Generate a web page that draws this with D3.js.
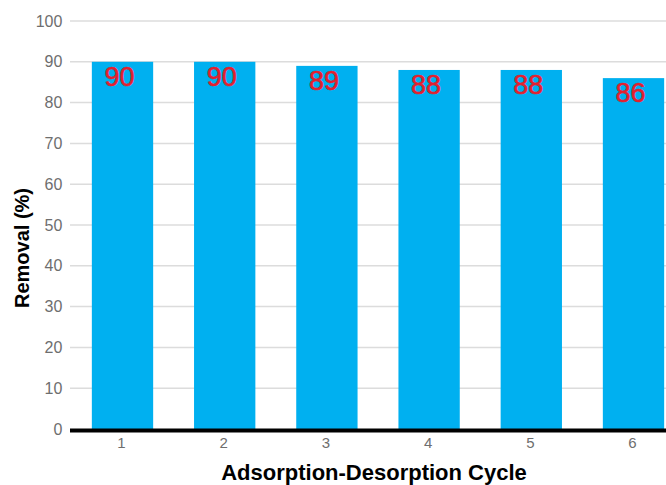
<!DOCTYPE html>
<html>
<head>
<meta charset="utf-8">
<script src="https://cdn.jsdelivr.net/npm/d3@7"></script>
<style>
  html, body { margin: 0; padding: 0; background: #fff; }
  svg { display: block; }
</style>
</head>
<body>
<svg id="chart" width="666" height="485"></svg>
<script>
// Removal efficiency over repeated adsorption-desorption cycles
const cycles = ["1", "2", "3", "4", "5", "6"];
const removal = [90, 90, 89, 88, 88, 86];
const yTicks = [0, 10, 20, 30, 40, 50, 60, 70, 80, 90, 100];

const svg = d3.select("#chart");
const plotLeft = 71.4, plotTop = 21, plotBottom = 429;
const step = 102.2;
const fontFamily = "Liberation Sans, Arial, sans-serif";

const x = d3.scaleBand()
  .domain(cycles)
  .range([plotLeft, plotLeft + step * cycles.length])
  .paddingInner(0.4)
  .paddingOuter(0.2);

const y = d3.scaleLinear().domain([0, 100]).range([plotBottom, plotTop]);

// Horizontal gridlines
svg.append("g")
  .selectAll("line")
  .data(yTicks.filter(d => d > 0))
  .join("line")
  .attr("x1", 70)
  .attr("x2", 666)
  .attr("y1", d => y(d))
  .attr("y2", d => y(d))
  .attr("stroke", "#dcdcdc")
  .attr("stroke-width", 1.5);

// Y axis tick labels
const yAxis = d3.axisLeft(y).tickValues(yTicks).tickSize(0).tickPadding(9);
const gy = svg.append("g").attr("transform", `translate(${plotLeft},0)`).call(yAxis);
gy.select(".domain").remove();
gy.selectAll("text")
  .attr("font-family", fontFamily)
  .attr("font-size", 16)
  .attr("fill", "#6e6e6e");

// Bars
svg.append("g")
  .selectAll("rect")
  .data(removal)
  .join("rect")
  .attr("x", (d, i) => x(cycles[i]))
  .attr("width", x.bandwidth())
  .attr("y", d => y(d))
  .attr("height", d => y(0) - y(d))
  .attr("fill", "#00b0f0");

// Value labels inside bar tops
svg.append("g")
  .selectAll("text")
  .data(removal)
  .join("text")
  .attr("x", (d, i) => x(cycles[i]) + x.bandwidth() / 2 - 3)
  .attr("y", d => y(d) + 24)
  .attr("text-anchor", "middle")
  .attr("font-family", fontFamily)
  .attr("font-size", 27)
  .attr("fill", "#e3202e")
  .attr("stroke", "#e3202e")
  .attr("stroke-width", 0.6)
  .text(d => d);

// X axis tick labels
const xAxis = d3.axisBottom(x).tickSize(0).tickPadding(8);
const gx = svg.append("g").attr("transform", `translate(-1,${plotBottom})`).call(xAxis);
gx.select(".domain").remove();
gx.selectAll("text")
  .attr("font-family", fontFamily)
  .attr("font-size", 15)
  .attr("fill", "#6e6e6e");

// Baseline
svg.append("line")
  .attr("x1", 70)
  .attr("x2", 666)
  .attr("y1", plotBottom + 1.5)
  .attr("y2", plotBottom + 1.5)
  .attr("stroke", "#000")
  .attr("stroke-width", 4);

// Axis titles
svg.append("text")
  .attr("x", 374)
  .attr("y", 480)
  .attr("text-anchor", "middle")
  .attr("font-family", fontFamily)
  .attr("font-weight", "bold")
  .attr("font-size", 22)
  .attr("fill", "#000")
  .text("Adsorption-Desorption Cycle");

svg.append("text")
  .attr("transform", "translate(29,248) rotate(-90)")
  .attr("text-anchor", "middle")
  .attr("font-family", fontFamily)
  .attr("font-weight", "bold")
  .attr("font-size", 20)
  .attr("fill", "#000")
  .text("Removal (%)");
</script>
</body>
</html>
